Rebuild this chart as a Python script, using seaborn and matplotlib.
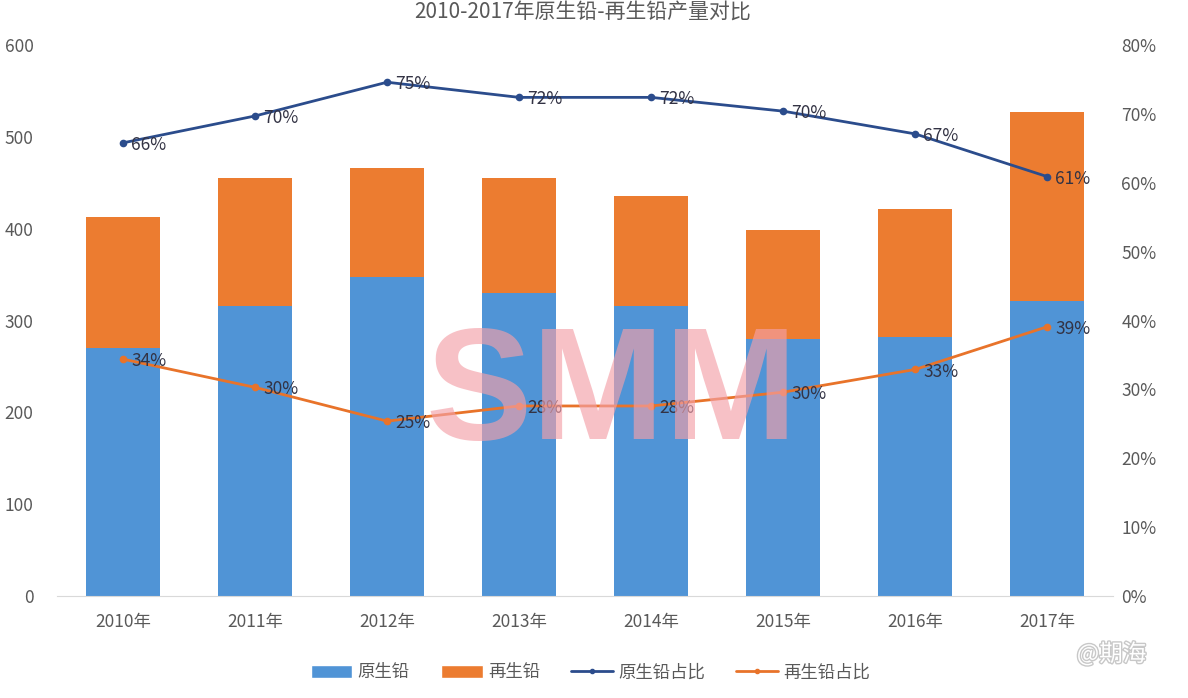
import pandas as pd
import seaborn as sns
import matplotlib.pyplot as plt
import matplotlib.patheffects as pe
from matplotlib.patches import Patch
from matplotlib.lines import Line2D

sns.set_style('white')
plt.rcParams['font.family'] = ['Noto Sans CJK SC', 'DejaVu Sans']

years = ['2010年', '2011年', '2012年', '2013年', '2014年', '2015年', '2016年', '2017年']
primary = [270, 316, 347, 330, 316, 280, 282, 321]
secondary = [143, 139, 119, 125, 120, 119, 140, 206]
primary_pct = [65.8, 69.7, 74.6, 72.4, 72.4, 70.4, 67.1, 60.9]
secondary_pct = [34.4, 30.3, 25.4, 27.6, 27.6, 29.6, 32.9, 39.1]

df = pd.DataFrame({'year': years, 'primary': primary, 'secondary': secondary,
                   'primary_pct': primary_pct, 'secondary_pct': secondary_pct})

c_blue = '#5094D6'
c_orange = '#EC7C30'
c_navy = '#2B4C8C'
c_line_or = '#E8732A'
grey = '#595959'

fig = plt.figure(figsize=(11.88, 6.98), dpi=100)
ax = fig.add_axes([0.048, 0.146, 0.889, 0.7895])

sns.barplot(data=df, x='year', y='primary', color=c_blue, width=0.56, ax=ax,
            saturation=1, linewidth=0)
sns.barplot(data=df, x='year', y='secondary', bottom=df['primary'], color=c_orange,
            width=0.56, ax=ax, saturation=1, linewidth=0)

ax.set_ylim(0, 600)
ax.set_xlim(-0.5, 7.5)
ax.set_yticks(range(0, 601, 100))
ax.set_xlabel('')
ax.set_ylabel('')
ax.tick_params(axis='both', length=0, labelsize=12.5, colors=grey)
ax.tick_params(axis='x', pad=12)
ax.tick_params(axis='y', pad=17)
for s in ['top', 'right', 'left']:
    ax.spines[s].set_visible(False)
ax.spines['bottom'].set_color('#d9d9d9')

ax2 = ax.twinx()
sns.pointplot(data=df, x='year', y='primary_pct', color=c_navy, markers='o',
              markersize=4, linewidth=2, ax=ax2)
sns.pointplot(data=df, x='year', y='secondary_pct', color=c_line_or, markers='o',
              markersize=4, linewidth=2, ax=ax2)
ax2.set_ylim(0, 80)
ax2.set_xlim(-0.5, 7.5)
ax2.set_yticks(range(0, 81, 10))
ax2.set_yticklabels([f'{v}%' for v in range(0, 81, 10)])
ax2.set_ylabel('')
ax2.tick_params(axis='y', length=0, labelsize=12.5, colors=grey, pad=6)
for s in ['top', 'right', 'left', 'bottom']:
    ax2.spines[s].set_visible(False)

for i, (p, q) in enumerate(zip(primary_pct, secondary_pct)):
    ax2.text(i + 0.06, p - 0.3, f'{p:.0f}%', fontsize=12.5, color='#333344',
             va='center', ha='left')
    ax2.text(i + 0.06, q - 0.3, f'{q:.0f}%', fontsize=12.5, color='#333344',
             va='center', ha='left')

fig.text(0.49, 0.983, '2010-2017年原生铅-再生铅产量对比', ha='center', va='center',
         fontsize=15, color=grey)

# watermark
fig.text(0.515, 0.43, 'SMM', ha='center', va='center', fontsize=115,
         color='#f4a0a8', alpha=0.65, fontweight='bold', family='Liberation Sans')

handles = [Patch(facecolor=c_blue, label='原生铅'),
           Patch(facecolor=c_orange, label='再生铅'),
           Line2D([], [], color=c_navy, marker='o', markersize=3, lw=2, label='原生铅占比'),
           Line2D([], [], color=c_line_or, marker='o', markersize=3, lw=2, label='再生铅占比')]
fig.legend(handles=handles, loc='center', bbox_to_anchor=(0.497, 0.037), ncol=4,
           frameon=False, fontsize=12.5, labelcolor=grey, handlelength=2.4,
           handleheight=0.8, columnspacing=1.8, handletextpad=0.3)

fig.text(0.965, 0.063, '@期海', ha='right', va='center', fontsize=17, color='white',
         path_effects=[pe.withStroke(linewidth=2, foreground='#c8c8c8')])

fig.savefig('out.png', dpi=100)
